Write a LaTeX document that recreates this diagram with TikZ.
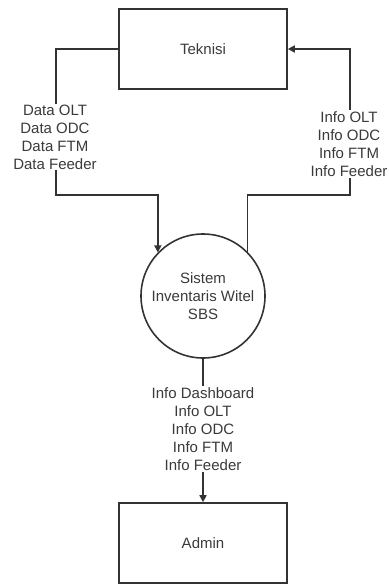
\documentclass[tikz,border=0pt]{standalone}
\usepackage{fontspec}
\setmainfont{Liberation Sans}
\usetikzlibrary{arrows.meta}

\definecolor{linegray}{HTML}{333333}
\definecolor{textgray}{HTML}{3A3A3A}

\tikzset{
  entity/.style={draw=linegray, line width=1.6pt, minimum width=168pt, minimum height=80pt, text=textgray},
  process/.style={draw=linegray, circle, line width=1.6pt, minimum size=124pt, inner sep=0pt, align=center, text=textgray},
  flow/.style={draw=linegray, line width=1.6pt, -{Triangle[length=7pt,width=7pt]}},
  flowlabel/.style={fill=white, align=center, text=textgray, inner sep=1pt}
}

\begin{document}
\begin{tikzpicture}[x=1pt, y=-1pt, font=\fontsize{15}{18}\selectfont]
  \useasboundingbox (0,0) rectangle (388,585);

  % external entities and the process
  \node[entity] (teknisi) at (203,49) {Teknisi};
  \node[process] (sistem) at (203,296) {Sistem\\Inventaris Witel\\SBS};
  \node[entity] (admin) at (203,543) {Admin};

  % bends of the two flows
  \coordinate (lbend) at (56,195);
  \coordinate (rbend) at (350,195);

  % data flows
  \draw[flow] (teknisi.west) -| (lbend) -| (sistem.136.6);
  \draw[flow] (sistem.45) |- (rbend) |- (teknisi.east);
  \draw[flow] (sistem.south) -- (admin.north);

  % flow labels
  \node[flowlabel] (datain) at (55,137) {Data OLT\\Data ODC\\Data FTM\\Data Feeder};
  \node[flowlabel] (infoout) at (349,144) {Info OLT\\Info ODC\\Info FTM\\Info Feeder};
  \node[flowlabel] (infoadmin) at (203,429) {Info Dashboard\\Info OLT\\Info ODC\\Info FTM\\Info Feeder};
\end{tikzpicture}
\end{document}
